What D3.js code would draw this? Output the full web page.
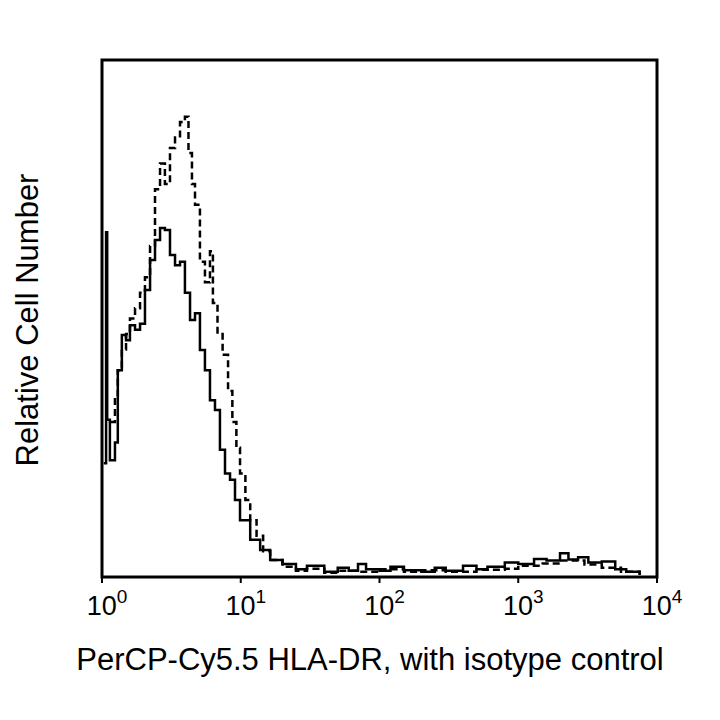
<!DOCTYPE html>
<html><head><meta charset="utf-8">
<script src="https://cdn.jsdelivr.net/npm/d3@7"></script>
<style>body{margin:0;background:#fff}</style>
</head><body>
<svg id="chart" width="720" height="720"></svg>
<script>
// fluorescence channel values and relative counts
const solidX = [1.03,1.07,1.09,1.14,1.24,1.30,1.39,1.49,1.59,1.73,1.88,2.04,2.22,2.41,2.62,2.84,3.09,3.36,3.65,3.96,4.31,4.68,5.08,5.52,6.00,6.52,7.08,7.70,8.37,9.09,9.88,11.7,13.8,16.3,20,25,30,40,50,60,70,80,100,120,150,200,250,300,400,500,600,800,1000,1300,1600,2000,2300,2700,3200,4000,5000,6000,7500]
const solidY = [22,66.7,30.4,22.6,26,40,46.8,45.8,48.7,47.8,49,55.5,61.3,65.2,67.5,67.1,62.3,60.3,61,55,49.7,51,43.9,40,34.2,32.3,24.6,20,18.8,14.9,11,7.2,5.2,3.3,2.5,1.5,2.2,1.0,1.8,1.2,2.5,1.5,1.2,2.0,1.3,1.0,1.8,1.2,2.2,1.5,2.0,2.8,2.5,3.5,3.2,4.6,3.4,3.8,2.8,3.0,1.5,1.0,0.5]
const dashX = [1.14,1.24,1.30,1.39,1.49,1.59,1.73,1.88,2.04,2.22,2.41,2.62,2.84,3.09,3.36,3.65,3.96,4.20,4.45,4.68,5.08,5.52,6.00,6.30,6.80,7.40,8.10,8.70,9.30,9.88,10.8,11.7,13.0,14.5,16.3,20,25,30,40,50,70,100,150,200,300,500,800,1000,1500,2000,3000,4000,5500,7500]
const dashY = [30,35,40,44,47,50,52,55,58,64,75,80,76,83,85,88,89,82,76,72,61,57,63,53,47,43,36,30,25,20,14.9,11,8,5,3.3,2.0,1.2,1.6,0.8,1.2,1.0,1.5,1.0,1.3,1.0,1.4,1.6,2.2,2.6,3.2,2.4,1.8,1.0,0.4]
const tickVals = [1,10,100,1000,10000]
const tickExp = ['0','1','2','3','4']

const svg = d3.select('#chart')
const m = {left:102, top:60, right:63, bottom:143}
const w = 720 - m.left - m.right, h = 720 - m.top - m.bottom
const g = svg.append('g').attr('transform', `translate(${m.left},${m.top})`)

const x = d3.scaleLog().domain([1, 10000]).range([0, w])
const y = d3.scaleLinear().domain([0, 100]).range([h, 0])

const line = d3.line().x(d => x(d[0])).y(d => y(d[1])).curve(d3.curveStepAfter)

g.append('path').datum(d3.zip(solidX, solidY)).attr('d', line)
  .attr('fill', 'none').attr('stroke', '#000').attr('stroke-width', 2.5)
g.append('path').datum(d3.zip(dashX, dashY)).attr('d', line)
  .attr('fill', 'none').attr('stroke', '#000').attr('stroke-width', 2.5)
  .attr('stroke-dasharray', '7,4')

// frame
g.append('rect').attr('width', w).attr('height', h)
  .attr('fill', 'none').attr('stroke', '#000').attr('stroke-width', 3)

// x ticks
const ax = g.append('g').attr('transform', `translate(0,${h})`)
ax.selectAll('line').data(tickVals).join('line')
  .attr('x1', d => x(d)).attr('x2', d => x(d)).attr('y1', 0).attr('y2', 6)
  .attr('stroke', '#000').attr('stroke-width', 2)
const lbl = ax.selectAll('text').data(tickVals).join('text')
  .attr('x', d => x(d) + 5).attr('y', 38)
  .attr('text-anchor', 'middle')
  .attr('font-family', 'Liberation Sans, Arial, sans-serif').attr('font-size', 27)
lbl.append('tspan').text('10')
lbl.append('tspan').attr('dy', -12).attr('font-size', 19).text((d, i) => tickExp[i])

svg.append('text').attr('x', 370).attr('y', 670)
  .attr('text-anchor', 'middle')
  .attr('font-family', 'Liberation Sans, Arial, sans-serif').attr('font-size', 31)
  .text('PerCP-Cy5.5 HLA-DR, with isotype control')
svg.append('text').attr('transform', `translate(38,320) rotate(-90)`)
  .attr('text-anchor', 'middle')
  .attr('font-family', 'Liberation Sans, Arial, sans-serif').attr('font-size', 31)
  .text('Relative Cell Number')
</script>
</body></html>
